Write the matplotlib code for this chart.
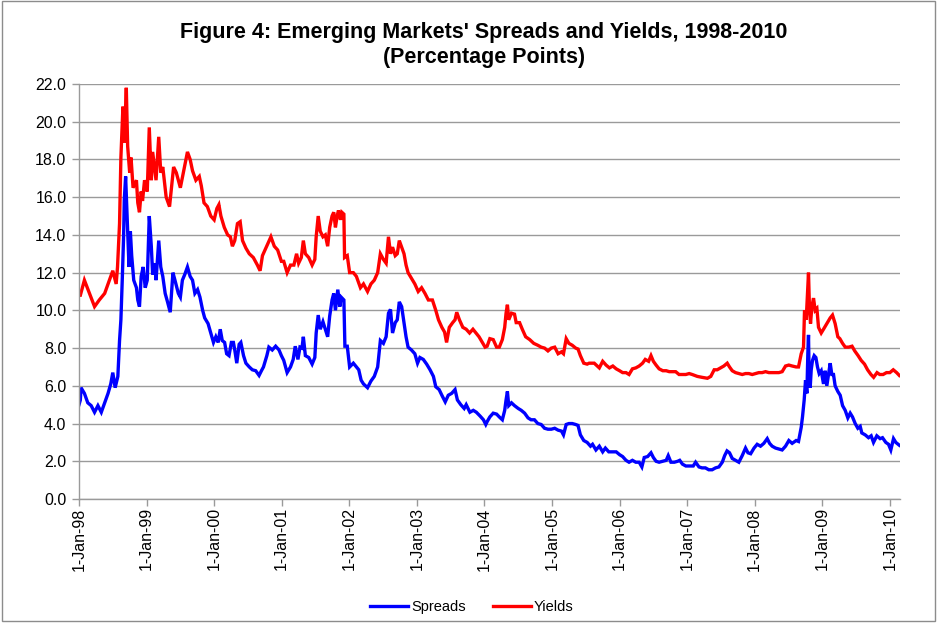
import matplotlib
matplotlib.use("Agg")
import matplotlib.pyplot as plt
from matplotlib.patches import Rectangle

# ---------------- data (decimal years, percentage points) ----------------
yield_t = [1998.00, 1998.02, 1998.08, 1998.155, 1998.23, 1998.30, 1998.38, 1998.45, 1998.50, 1998.55,
           1998.57, 1998.60, 1998.62, 1998.65, 1998.67, 1998.70, 1998.72, 1998.75, 1998.77, 1998.80,
           1998.85, 1998.87, 1998.895, 1998.92, 1998.94, 1998.97, 1999.01, 1999.04, 1999.07, 1999.09,
           1999.14, 1999.18, 1999.21, 1999.24, 1999.29, 1999.34, 1999.40, 1999.44, 1999.50, 1999.56,
           1999.605, 1999.645, 1999.68, 1999.73, 1999.78, 1999.81, 1999.85, 1999.90, 1999.95, 2000.00,
           2000.04, 2000.07, 2000.10, 2000.15, 2000.20, 2000.24, 2000.27, 2000.305, 2000.345, 2000.385,
           2000.42, 2000.47, 2000.52, 2000.58, 2000.64, 2000.68, 2000.715, 2000.79, 2000.84, 2000.89,
           2000.94, 2000.995, 2001.03, 2001.08, 2001.13, 2001.18, 2001.22, 2001.25, 2001.29, 2001.32,
           2001.35, 2001.40, 2001.45, 2001.49, 2001.51, 2001.54, 2001.57, 2001.61, 2001.645, 2001.68,
           2001.71, 2001.745, 2001.77, 2001.795, 2001.82, 2001.84, 2001.87, 2001.89, 2001.92, 2001.93,
           2001.97, 2002.005, 2002.06, 2002.105, 2002.165, 2002.21, 2002.27, 2002.32, 2002.37, 2002.42,
           2002.46, 2002.505, 2002.545, 2002.58, 2002.61, 2002.64, 2002.68, 2002.71, 2002.74, 2002.775,
           2002.81, 2002.84, 2002.87, 2002.92, 2002.97, 2003.02, 2003.07, 2003.12, 2003.17, 2003.23,
           2003.28, 2003.32, 2003.37, 2003.41, 2003.44, 2003.48, 2003.53, 2003.565, 2003.59, 2003.63,
           2003.68, 2003.73, 2003.78, 2003.83, 2003.875, 2003.92, 2003.97, 2004.01, 2004.04, 2004.08,
           2004.13, 2004.18, 2004.22, 2004.265, 2004.30, 2004.32, 2004.34, 2004.36, 2004.40, 2004.445,
           2004.47, 2004.52, 2004.56, 2004.61, 2004.67, 2004.73, 2004.79, 2004.84, 2004.89, 2004.94,
           2004.99, 2005.04, 2005.09, 2005.14, 2005.17, 2005.21, 2005.25, 2005.30, 2005.35, 2005.385,
           2005.42, 2005.47, 2005.52, 2005.55, 2005.625, 2005.70, 2005.75, 2005.80, 2005.85, 2005.90,
           2005.95, 2006.00, 2006.045, 2006.095, 2006.14, 2006.19, 2006.24, 2006.29, 2006.34, 2006.38,
           2006.43, 2006.465, 2006.50, 2006.54, 2006.585, 2006.64, 2006.69, 2006.735, 2006.78, 2006.83,
           2006.88, 2006.93, 2006.98, 2007.03, 2007.075, 2007.15, 2007.22, 2007.30, 2007.35, 2007.40,
           2007.445, 2007.494, 2007.543, 2007.593, 2007.627, 2007.667, 2007.716, 2007.765, 2007.815, 2007.864,
           2007.913, 2007.963, 2008.012, 2008.061, 2008.11, 2008.16, 2008.209, 2008.258, 2008.308, 2008.357,
           2008.406, 2008.456, 2008.505, 2008.554, 2008.613, 2008.648, 2008.688, 2008.722, 2008.737, 2008.762,
           2008.781, 2008.796, 2008.811, 2008.826, 2008.846, 2008.87, 2008.895, 2008.92, 2008.944, 2008.984,
           2009.018, 2009.067, 2009.117, 2009.151, 2009.19, 2009.23, 2009.26, 2009.30, 2009.34, 2009.39,
           2009.44, 2009.48, 2009.53, 2009.575, 2009.625, 2009.67, 2009.72, 2009.76, 2009.81, 2009.85,
           2009.90, 2009.95, 2010.00, 2010.05, 2010.10, 2010.14]
yield_v = [10.8, 10.8, 11.6, 10.9, 10.2, 10.55, 10.9, 11.6, 12.1, 11.4,
           12.3, 14.6, 18.1, 20.8, 18.9, 21.8, 18.7, 17.3, 18.1, 16.5,
           16.9, 15.7, 15.2, 16.3, 15.8, 16.9, 16.3, 19.7, 16.9, 18.4,
           16.9, 19.2, 17.3, 17.6, 16.0, 15.5, 17.6, 17.3, 16.5, 17.6,
           18.4, 18.0, 17.4, 16.9, 17.1, 16.6, 15.7, 15.5, 15.0, 14.8,
           15.4, 15.6, 15.0, 14.4, 14.0, 13.9, 13.4, 13.7, 14.6, 14.7,
           13.7, 13.3, 13.0, 12.8, 12.4, 12.1, 12.9, 13.5, 13.9, 13.4,
           13.2, 12.6, 12.6, 12.0, 12.4, 12.4, 13.0, 12.5, 12.8, 13.7,
           13.0, 12.8, 12.4, 12.7, 13.9, 15.0, 14.2, 13.9, 14.0, 13.4,
           14.4, 15.0, 15.2, 14.4, 15.0, 15.3, 14.8, 15.2, 15.1, 12.8,
           12.9, 12.0, 12.0, 11.8, 11.2, 11.4, 11.0, 11.4, 11.6, 12.0,
           13.0, 12.7, 12.5, 13.9, 13.0, 13.35, 12.9, 13.0, 13.7, 13.35,
           13.0, 12.4, 12.0, 11.7, 11.4, 11.0, 11.2, 10.9, 10.55, 10.55,
           10.0, 9.5, 9.1, 8.85, 8.3, 9.1, 9.35, 9.5, 9.9, 9.5,
           9.1, 9.0, 8.8, 9.0, 8.8, 8.6, 8.3, 8.05, 8.1, 8.5,
           8.45, 8.05, 8.05, 8.45, 9.1, 9.85, 10.3, 9.5, 9.85, 9.8,
           9.35, 9.35, 9.0, 8.6, 8.45, 8.25, 8.15, 8.05, 8.0, 7.85,
           8.0, 8.05, 7.7, 7.8, 7.7, 8.5, 8.25, 8.15, 8.0, 7.95,
           7.6, 7.2, 7.15, 7.2, 7.2, 6.95, 7.3, 7.1, 6.95, 7.05,
           6.9, 6.8, 6.7, 6.7, 6.6, 6.9, 6.95, 7.05, 7.2, 7.4,
           7.3, 7.6, 7.3, 7.1, 6.9, 6.8, 6.8, 6.75, 6.75, 6.75,
           6.6, 6.6, 6.6, 6.65, 6.6, 6.5, 6.45, 6.4, 6.5, 6.85,
           6.85, 6.95, 7.05, 7.2, 7.0, 6.8, 6.7, 6.65, 6.6, 6.65,
           6.65, 6.6, 6.65, 6.7, 6.7, 6.75, 6.7, 6.7, 6.7, 6.7,
           6.75, 7.05, 7.1, 7.05, 7.0, 7.0, 7.7, 8.05, 10.0, 9.5,
           10.9, 12.0, 10.0, 9.3, 10.2, 10.65, 10.0, 10.1, 9.1, 8.8,
           9.0, 9.3, 9.6, 9.75, 9.3, 8.6, 8.5, 8.25, 8.05, 8.05,
           8.1, 7.85, 7.6, 7.35, 7.15, 6.85, 6.6, 6.45, 6.7, 6.6,
           6.6, 6.7, 6.7, 6.85, 6.7, 6.55]

spread_t = [1998.00, 1998.02, 1998.03, 1998.08, 1998.13, 1998.18, 1998.23, 1998.28, 1998.33, 1998.38,
            1998.43, 1998.47, 1998.50, 1998.535, 1998.575, 1998.60, 1998.62, 1998.64, 1998.66, 1998.67,
            1998.69, 1998.71, 1998.72, 1998.74, 1998.76, 1998.78, 1998.81, 1998.85, 1998.87, 1998.895,
            1998.92, 1998.95, 1998.98, 1999.01, 1999.04, 1999.07, 1999.09, 1999.12, 1999.14, 1999.18,
            1999.21, 1999.24, 1999.275, 1999.31, 1999.35, 1999.39, 1999.42, 1999.47, 1999.50, 1999.53,
            1999.565, 1999.605, 1999.645, 1999.68, 1999.715, 1999.755, 1999.79, 1999.83, 1999.86, 1999.91,
            1999.95, 1999.99, 2000.025, 2000.06, 2000.09, 2000.12, 2000.155, 2000.185, 2000.22, 2000.255,
            2000.285, 2000.305, 2000.335, 2000.37, 2000.395, 2000.435, 2000.47, 2000.52, 2000.565, 2000.615,
            2000.665, 2000.70, 2000.73, 2000.78, 2000.81, 2000.86, 2000.91, 2000.96, 2000.995, 2001.03,
            2001.08, 2001.13, 2001.17, 2001.20, 2001.24, 2001.27, 2001.30, 2001.32, 2001.35, 2001.40,
            2001.45, 2001.49, 2001.51, 2001.54, 2001.57, 2001.61, 2001.645, 2001.68, 2001.71, 2001.745,
            2001.77, 2001.795, 2001.83, 2001.86, 2001.88, 2001.92, 2001.935, 2001.97, 2002.005, 2002.06,
            2002.105, 2002.14, 2002.175, 2002.21, 2002.27, 2002.32, 2002.37, 2002.42, 2002.46, 2002.505,
            2002.545, 2002.58, 2002.61, 2002.64, 2002.68, 2002.71, 2002.74, 2002.775, 2002.81, 2002.84,
            2002.87, 2002.92, 2002.97, 2003.01, 2003.045, 2003.095, 2003.145, 2003.195, 2003.245, 2003.28,
            2003.33, 2003.37, 2003.42, 2003.465, 2003.515, 2003.565, 2003.60, 2003.65, 2003.70, 2003.73,
            2003.785, 2003.835, 2003.88, 2003.935, 2003.985, 2004.02, 2004.04, 2004.08, 2004.13, 2004.18,
            2004.22, 2004.265, 2004.30, 2004.32, 2004.34, 2004.36, 2004.40, 2004.445, 2004.50, 2004.545,
            2004.595, 2004.645, 2004.69, 2004.74, 2004.79, 2004.84, 2004.89, 2004.94, 2004.99, 2005.04,
            2005.09, 2005.14, 2005.17, 2005.21, 2005.25, 2005.30, 2005.35, 2005.385, 2005.42, 2005.47,
            2005.52, 2005.57, 2005.60, 2005.65, 2005.70, 2005.75, 2005.79, 2005.84, 2005.90, 2005.95,
            2006.00, 2006.045, 2006.095, 2006.14, 2006.19, 2006.24, 2006.29, 2006.33, 2006.365, 2006.415,
            2006.465, 2006.50, 2006.54, 2006.585, 2006.64, 2006.69, 2006.72, 2006.76, 2006.81, 2006.86,
            2006.89, 2006.93, 2006.98, 2007.03, 2007.09, 2007.125, 2007.175, 2007.22, 2007.27, 2007.32,
            2007.37, 2007.42, 2007.47, 2007.52, 2007.555, 2007.59, 2007.627, 2007.667, 2007.716, 2007.765,
            2007.815, 2007.864, 2007.90, 2007.94, 2007.99, 2008.036, 2008.086, 2008.135, 2008.185, 2008.22,
            2008.258, 2008.308, 2008.357, 2008.406, 2008.456, 2008.505, 2008.554, 2008.613, 2008.648, 2008.688,
            2008.707, 2008.732, 2008.752, 2008.772, 2008.786, 2008.796, 2008.806, 2008.821, 2008.836, 2008.855,
            2008.88, 2008.905, 2008.929, 2008.954, 2008.984, 2009.018, 2009.043, 2009.067, 2009.092, 2009.117,
            2009.141, 2009.166, 2009.19, 2009.23, 2009.265, 2009.30, 2009.339, 2009.378, 2009.413, 2009.447,
            2009.487, 2009.526, 2009.561, 2009.585, 2009.635, 2009.684, 2009.723, 2009.758, 2009.807, 2009.856,
            2009.891, 2009.94, 2009.98, 2010.014, 2010.054, 2010.088, 2010.14]
spread_v = [5.0, 5.25, 5.9, 5.6, 5.1, 4.95, 4.6, 4.95, 4.6, 5.1,
            5.6, 6.1, 6.7, 5.9, 6.5, 8.4, 9.5, 11.6, 13.9, 15.85,
            17.1, 15.2, 14.4, 12.3, 14.2, 12.9, 11.6, 11.2, 10.55, 10.2,
            11.8, 12.3, 11.2, 11.6, 15.0, 13.4, 11.9, 12.5, 11.6, 13.7,
            12.3, 11.8, 10.9, 10.45, 9.9, 12.0, 11.6, 10.9, 10.7, 11.6,
            11.9, 12.3, 11.8, 11.6, 10.9, 11.1, 10.7, 10.0, 9.6, 9.3,
            8.8, 8.3, 8.6, 8.3, 9.0, 8.4, 8.3, 7.7, 7.6, 8.3,
            8.3, 7.9, 7.2, 8.2, 8.3, 7.6, 7.2, 7.0, 6.85, 6.8,
            6.55, 6.8, 7.0, 7.6, 8.05, 7.9, 8.1, 7.9, 7.6, 7.35,
            6.7, 7.0, 7.4, 8.1, 7.4, 8.05, 8.0, 8.6, 7.6, 7.5,
            7.15, 7.5, 8.8, 9.75, 9.0, 9.4, 9.0, 8.6, 9.7, 10.55,
            10.9, 10.0, 11.1, 10.2, 10.7, 10.55, 8.1, 8.1, 7.0, 7.2,
            7.0, 6.85, 6.3, 6.1, 5.9, 6.25, 6.5, 7.0, 8.4, 8.25,
            8.6, 9.85, 10.05, 8.8, 9.35, 9.5, 10.45, 10.2, 9.35, 8.6,
            8.05, 7.9, 7.7, 7.2, 7.5, 7.4, 7.15, 6.85, 6.5, 5.95,
            5.8, 5.5, 5.15, 5.5, 5.6, 5.8, 5.25, 5.0, 4.8, 5.0,
            4.6, 4.7, 4.6, 4.4, 4.2, 3.95, 4.1, 4.35, 4.55, 4.5,
            4.35, 4.2, 4.7, 5.25, 5.7, 4.95, 5.1, 4.95, 4.8, 4.7,
            4.55, 4.3, 4.2, 4.2, 4.0, 3.95, 3.75, 3.7, 3.7, 3.75,
            3.65, 3.6, 3.4, 3.95, 4.0, 4.0, 3.95, 3.9, 3.4, 3.1,
            3.0, 2.8, 2.9, 2.6, 2.8, 2.5, 2.7, 2.5, 2.5, 2.5,
            2.35, 2.25, 2.05, 1.95, 2.05, 1.95, 1.95, 1.7, 2.2, 2.25,
            2.45, 2.2, 2.0, 1.95, 2.0, 2.05, 2.3, 1.95, 1.95, 2.0,
            2.05, 1.85, 1.75, 1.75, 1.75, 1.95, 1.7, 1.65, 1.65, 1.55,
            1.55, 1.65, 1.7, 1.95, 2.3, 2.55, 2.45, 2.15, 2.05, 1.95,
            2.3, 2.7, 2.45, 2.4, 2.7, 2.9, 2.8, 2.95, 3.2, 2.95,
            2.8, 2.7, 2.65, 2.6, 2.8, 3.1, 2.95, 3.1, 3.05, 3.8,
            4.35, 5.25, 6.3, 5.6, 7.7, 8.7, 6.3, 5.9, 6.85, 7.35,
            7.6, 7.5, 7.0, 6.65, 6.8, 6.1, 6.8, 6.0, 6.6, 7.2,
            6.6, 6.6, 6.0, 5.7, 5.5, 4.95, 4.7, 4.3, 4.55, 4.35,
            4.0, 3.75, 3.85, 3.5, 3.4, 3.25, 3.35, 3.0, 3.35, 3.2,
            3.25, 3.0, 2.9, 2.6, 3.2, 3.0, 2.85]

tick_years = [1998, 1999, 2000, 2001, 2002, 2003, 2004, 2005, 2006, 2007, 2008, 2009, 2010]
tick_labels = ['1-Jan-98', '1-Jan-99', '1-Jan-00', '1-Jan-01', '1-Jan-02', '1-Jan-03', '1-Jan-04',
               '1-Jan-05', '1-Jan-06', '1-Jan-07', '1-Jan-08', '1-Jan-09', '1-Jan-10']
y_ticks = [0, 2, 4, 6, 8, 10, 12, 14, 16, 18, 20, 22]
series_names = ['Spreads', 'Yields']
title_text = "Figure 4: Emerging Markets' Spreads and Yields, 1998-2010\n(Percentage Points)"

# ---------------- figure ----------------
plt.rcParams['font.family'] = ['Liberation Sans', 'DejaVu Sans']
W, H = 942, 628
fig = plt.figure(figsize=(W / 100, H / 100), dpi=100)
fig.patch.set_facecolor('white')

ax = fig.add_axes([79 / W, 1 - 499 / H, (900 - 79) / W, (499 - 84) / H])
grid_c = '#9a9a9a'
ax.set_axisbelow(True)
ax.yaxis.grid(True, color=grid_c, lw=1.0)
ax.xaxis.grid(False)

l1, = ax.plot(spread_t, spread_v, color='#0000FF', lw=2.4, solid_joinstyle='miter')
l2, = ax.plot(yield_t, yield_v, color='#FF0000', lw=2.4, solid_joinstyle='miter')

ax.set_xlim(1998.0, 2010.15)
ax.set_ylim(0, 22)
ax.set_yticks(y_ticks)
ax.set_yticklabels([f'{v:.1f}' for v in y_ticks], fontsize=11.5)
ax.set_xticks(tick_years)
ax.set_xticklabels(tick_labels, rotation=90, fontsize=11.5, va='top', ha='center')

for s in ['top', 'right']:
    ax.spines[s].set_visible(False)
for s in ['left', 'bottom']:
    ax.spines[s].set_color(grid_c)
    ax.spines[s].set_linewidth(1.0)
ax.tick_params(axis='both', direction='out', length=5, width=1, color=grid_c, labelcolor='black')
ax.tick_params(axis='y', pad=4)
ax.tick_params(axis='x', pad=1)

fig.text(484 / W, 1 - 45 / H, title_text, ha='center', va='center', fontsize=15.5,
         fontweight='bold', linespacing=1.2)

leg = fig.legend([l1, l2], series_names, loc='center', bbox_to_anchor=(472 / W, 1 - 607 / H),
                 ncol=2, frameon=False, fontsize=10.5, handlelength=2.6, handletextpad=0.2,
                 columnspacing=1.9)
for t in leg.get_texts():
    t.set_family(['Liberation Sans Narrow', 'Liberation Sans', 'DejaVu Sans'])

fig.patches.append(Rectangle((2 / W, 1 - 621 / H), 933 / W, 620 / H, transform=fig.transFigure,
                             fill=False, edgecolor='#8c8c8c', lw=1.0))

fig.savefig('out.png', dpi=100, facecolor='white')
